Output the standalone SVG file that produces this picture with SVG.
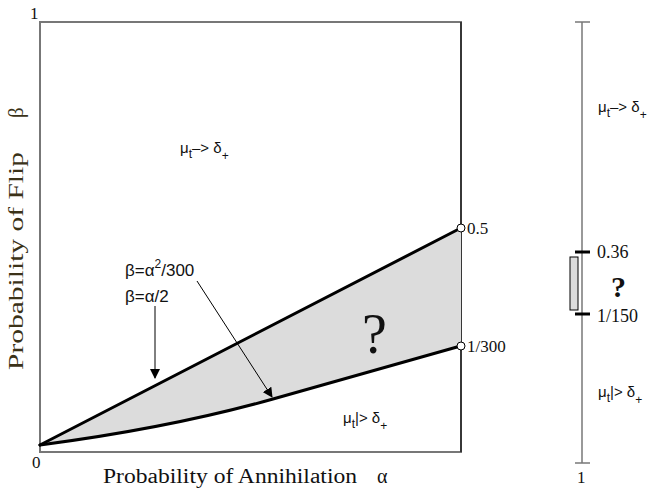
<svg xmlns="http://www.w3.org/2000/svg" width="660" height="489" viewBox="0 0 660 489">
<style>
.serif{font-family:"Liberation Serif","Times New Roman",serif;fill:#111}
.sans{font-family:"Liberation Sans",Arial,sans-serif;fill:#111}
.lbl{font-size:15px}
.sub{font-size:12px}
.thick{stroke:#000;stroke-width:3;fill:none;stroke-linecap:round;stroke-linejoin:round}
.thin{stroke:#000;stroke-width:1;fill:none}
.ylab{fill:#3b3218}
</style>
<defs>
<marker id="ah" viewBox="0 0 10 10" refX="9" refY="5" markerWidth="10" markerHeight="10" markerUnits="userSpaceOnUse" orient="auto">
<path d="M0,0 L10,5 L0,10 z" fill="#000"/>
</marker>
</defs>
<rect width="660" height="489" fill="#fff"/>

<g id="plot-frame">
<rect x="40" y="22" width="421" height="430" fill="#fff" stroke="#777" stroke-width="2"/>
<line x1="461" y1="22" x2="461" y2="452" stroke="#222" stroke-width="1.5"/>
<text class="serif" x="30" y="19" font-size="17">1</text>
<text class="serif" x="32" y="468" font-size="17">0</text>
<text class="serif" x="103" y="483" font-size="20" textLength="254" lengthAdjust="spacingAndGlyphs">Probability of  Annihilation</text>
<text class="serif" x="377" y="483" font-size="20">α</text>
<text class="serif ylab" transform="translate(23,370) rotate(-90)" font-size="21" textLength="218" lengthAdjust="spacingAndGlyphs">Probability of Flip</text>
<text class="serif ylab" transform="translate(23,118) rotate(-90)" font-size="21">β</text>
</g>

<g id="region-unknown">
<path d="M40,445 L461,228 L461,346 L273,399 Q170,428 40,445 Z" fill="#dcdcdc"/>
<text class="serif" x="362" y="353" font-size="56">?</text>
</g>

<g id="curves">
<line class="thick" x1="40" y1="445" x2="457" y2="230"/>
<path class="thick" d="M40,445 Q170,428 273,399 L457,347"/>
<circle cx="461" cy="228" r="4" fill="#fff" stroke="#000" stroke-width="1"/>
<circle cx="461" cy="346" r="4" fill="#fff" stroke="#000" stroke-width="1"/>
<text class="serif" x="467" y="234" font-size="17">0.5</text>
<text class="serif" x="467" y="352" font-size="17">1/300</text>
</g>

<g id="labels">
<text class="sans" x="125" y="276" font-size="17">β=α<tspan dy="-8" font-size="12">2</tspan><tspan dy="8">/300</tspan></text>
<text class="sans" x="125" y="302" font-size="17">β=α/2</text>
<text class="sans lbl" x="180" y="153">μ<tspan class="sub" dy="5">t</tspan><tspan dy="-5">–&gt; δ</tspan><tspan class="sub" dy="7">+</tspan></text>
<text class="sans lbl" x="343" y="423">μ<tspan class="sub" dy="5">t</tspan><tspan dy="-5">|&gt; δ</tspan><tspan class="sub" dy="7">+</tspan></text>
</g>

<g id="connectors">
<line class="thin" x1="155" y1="306" x2="155" y2="378" marker-end="url(#ah)"/>
<line class="thin" x1="197" y1="281" x2="272" y2="397" marker-end="url(#ah)"/>
</g>

<g id="side-scale">
<line x1="582" y1="22" x2="582" y2="463" stroke="#777" stroke-width="1.5"/>
<line x1="575" y1="22" x2="590" y2="22" stroke="#777" stroke-width="1.5"/>
<line x1="575" y1="463" x2="590" y2="463" stroke="#777" stroke-width="1.5"/>
<line x1="575" y1="252" x2="590" y2="252" stroke="#000" stroke-width="3"/>
<line x1="575" y1="314" x2="590" y2="314" stroke="#000" stroke-width="3"/>
<rect x="570" y="257" width="8" height="53" fill="#dcdcdc" stroke="#000" stroke-width="1"/>
<text class="serif" x="597" y="258" font-size="18">0.36</text>
<text class="serif" x="597" y="322" font-size="18">1/150</text>
<text class="serif" x="611" y="297" font-size="30" font-weight="bold">?</text>
<text class="serif" x="577" y="483" font-size="17">1</text>
<text class="sans lbl" x="598" y="112">μ<tspan class="sub" dy="5">t</tspan><tspan dy="-5">–&gt; δ</tspan><tspan class="sub" dy="7">+</tspan></text>
<text class="sans lbl" x="598" y="397">μ<tspan class="sub" dy="5">t</tspan><tspan dy="-5">|&gt; δ</tspan><tspan class="sub" dy="7">+</tspan></text>
</g>
</svg>
